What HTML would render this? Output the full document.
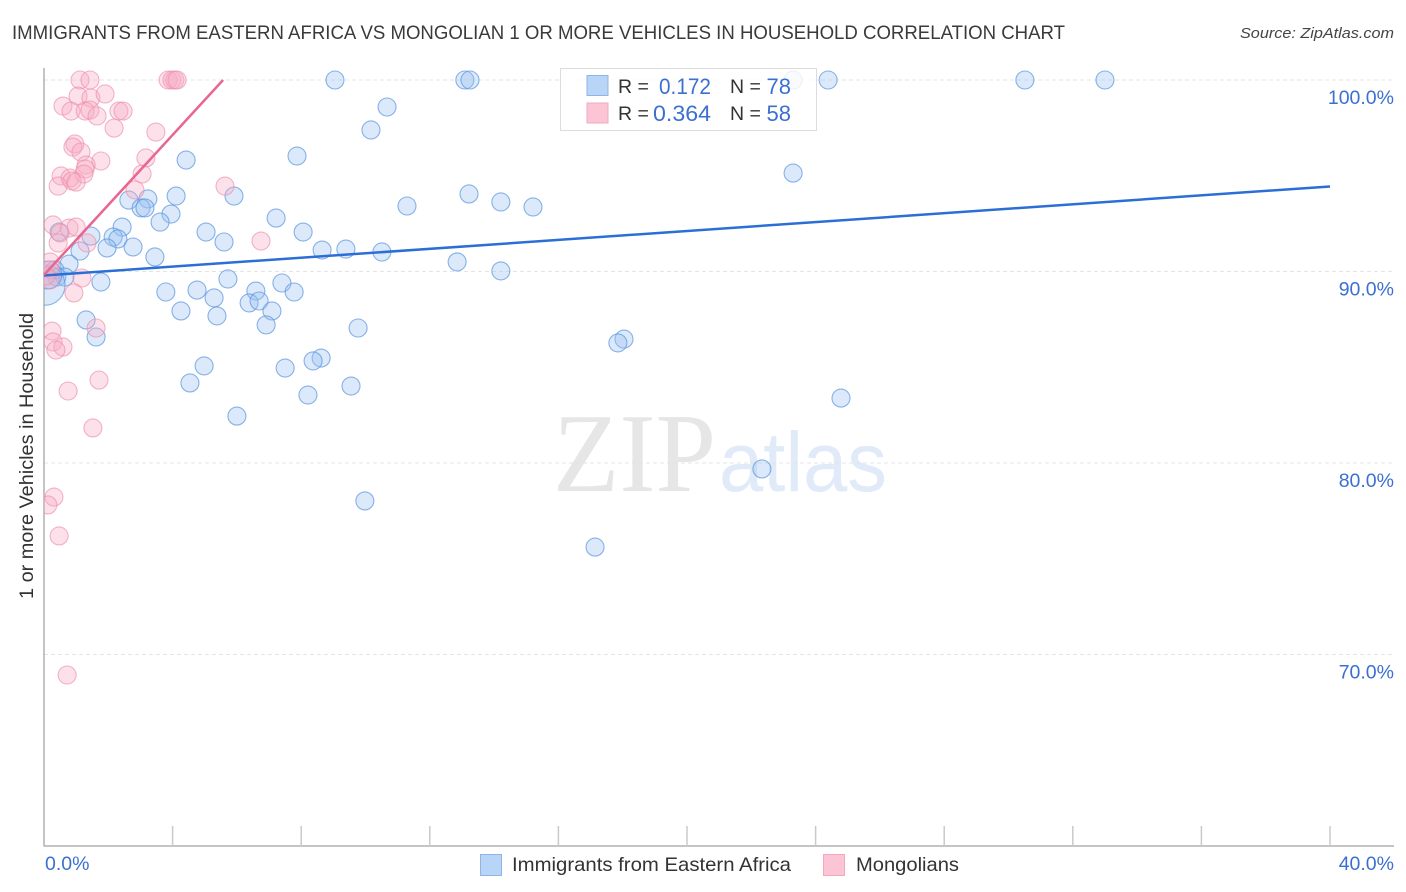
<!DOCTYPE html>
<html><head><meta charset="utf-8">
<style>
html,body{margin:0;padding:0;background:#fff;width:1406px;height:892px;overflow:hidden}
svg{display:block}
text{font-family:"Liberation Sans",sans-serif}
</style></head>
<body>
<svg id="chart" width="1406" height="892" viewBox="0 0 1406 892" xmlns="http://www.w3.org/2000/svg">
<defs><clipPath id="plot-clip"><rect x="44" y="60" width="1350" height="786"/></clipPath></defs>
<rect width="1406" height="892" fill="#fff"/>
<text x="12" y="39" font-size="19.5" fill="#3a3a3a" textLength="1053" lengthAdjust="spacingAndGlyphs">IMMIGRANTS FROM EASTERN AFRICA VS MONGOLIAN 1 OR MORE VEHICLES IN HOUSEHOLD CORRELATION CHART</text>
<text x="1394" y="38" font-size="15" font-style="italic" fill="#444" text-anchor="end" textLength="154" lengthAdjust="spacingAndGlyphs">Source: ZipAtlas.com</text>
<g id="watermark">
<text x="553" y="491" font-size="112" fill="#e6e6e6" style="font-family:'Liberation Serif',serif" textLength="163" lengthAdjust="spacingAndGlyphs">ZIP</text>
<text x="719" y="491" font-size="84" fill="#e1eaf8" textLength="168" lengthAdjust="spacingAndGlyphs">atlas</text>
</g>
<g id="grid"></g>
<g id="axes"></g>
<g id="points-blue" clip-path="url(#plot-clip)"></g>
<g id="points-pink" clip-path="url(#plot-clip)"></g>
<g id="trends"></g>
<g>
<rect x="560.5" y="68.5" width="256" height="62" fill="#fff" fill-opacity="0.82" stroke="#dcdcdc" stroke-width="1"/>
<rect x="587" y="75.5" width="21" height="20" fill="#b8d4f7" stroke="#8fb5e6"/>
<rect x="587" y="103" width="21" height="20" fill="#fcc5d6" stroke="#f2a9c0"/>
<text x="618" y="93" font-size="19.5" fill="#333">R =</text>
<text x="659" y="94" font-size="22" fill="#3b70d0" textLength="52" lengthAdjust="spacingAndGlyphs">0.172</text>
<text x="730" y="93" font-size="19.5" fill="#333">N =</text>
<text x="791" y="94" font-size="22" fill="#3b70d0" text-anchor="end">78</text>
<text x="618" y="120" font-size="19.5" fill="#333">R =</text>
<text x="653" y="121" font-size="22" fill="#3b70d0" textLength="58" lengthAdjust="spacingAndGlyphs">0.364</text>
<text x="730" y="120" font-size="19.5" fill="#333">N =</text>
<text x="791" y="121" font-size="22" fill="#3b70d0" text-anchor="end">58</text>
</g>
<text transform="translate(33,456) rotate(-90)" font-size="19" fill="#333" text-anchor="middle" textLength="286" lengthAdjust="spacingAndGlyphs">1 or more Vehicles in Household</text>
<g>
<rect x="480.5" y="854.5" width="21" height="21" fill="#b8d4f7" stroke="#8fb5e6"/>
<text x="512" y="871" font-size="19.5" fill="#333" textLength="279" lengthAdjust="spacingAndGlyphs">Immigrants from Eastern Africa</text>
<rect x="823.5" y="854.5" width="21" height="21" fill="#fcc5d6" stroke="#f2a9c0"/>
<text x="856" y="871" font-size="19.5" fill="#333" textLength="103" lengthAdjust="spacingAndGlyphs">Mongolians</text>
</g>
</svg>
<script>
const yTicks = [100, 90, 80, 70];
const yTickLabels = ['100.0%', '90.0%', '80.0%', '70.0%'];
const xTicks = [0, 4, 8, 12, 16, 20, 24, 28, 32, 36, 40];
const xEndLabels = ['0.0%', '40.0%'];

const blueX = [9.05,13.09,13.25,23.30,24.39,30.51,33.00,10.67,10.17,7.87,4.42,23.30,13.22,4.11,5.91,2.64,3.23,3.02,3.14,14.21,15.21,11.29,3.95,3.61,7.22,2.43,5.04,8.06,0.47,1.46,2.15,2.30,5.60,1.96,2.77,1.12,8.65,9.39,10.51,3.45,12.85,14.21,5.72,0.78,0.34,0.40,0.65,1.77,7.40,6.59,7.78,3.79,4.76,5.29,6.38,6.69,4.26,5.38,7.09,6.91,1.31,9.77,1.62,18.04,17.85,8.62,8.37,4.98,7.50,4.54,9.55,8.21,24.79,6.00,22.33,9.98,17.14,0.03,0.12];
const blueY = [100,100,100,100,100,100,100,98.59,97.39,96.03,95.82,95.14,94.05,93.94,93.94,93.73,93.79,93.32,93.32,93.63,93.37,93.42,93.00,92.58,92.79,92.32,92.06,92.06,92.06,91.85,91.80,91.70,91.54,91.23,91.28,91.07,91.12,91.17,91.02,90.76,90.50,90.03,89.61,90.39,90.08,89.71,89.71,89.45,89.40,88.98,88.93,88.93,89.03,88.62,88.36,88.46,87.94,87.68,87.94,87.21,87.47,87.05,86.58,86.47,86.27,85.48,85.33,85.07,84.96,84.18,84.02,83.55,83.39,82.45,79.69,78.02,75.61,89.29,89.82];
const blueWeight = [1,1,1,1,1,1,1,1,1,1,1,1,1,1,1,1,1,1,1,1,1,1,1,1,1,1,1,1,1,1,1,1,1,1,1,1,1,1,1,1,1,1,1,1,1,1,1,1,1,1,1,1,1,1,1,1,1,1,1,1,1,1,1,1,1,1,1,1,1,1,1,1,1,1,1,1,1,5,2.4];

const pinkX = [1.12,1.43,3.86,3.98,4.07,4.14,1.06,1.46,1.90,0.59,0.84,1.28,1.43,1.65,2.33,2.46,2.18,3.48,0.96,0.90,1.15,3.17,1.77,1.31,1.28,1.24,3.05,0.53,0.81,0.87,1.00,0.44,5.63,2.83,0.28,0.78,1.00,0.50,6.75,0.44,1.34,0.19,1.18,0.19,0.19,0.06,0.93,0.25,0.28,0.59,0.37,1.62,1.71,0.75,1.52,0.31,0.12,0.47,0.72];
const pinkY = [100,100,100,100,100,100,99.16,99.06,99.27,98.64,98.38,98.38,98.43,98.12,98.38,98.38,97.49,97.28,96.66,96.50,96.24,95.93,95.77,95.56,95.35,95.09,95.09,94.99,94.88,94.73,94.67,94.46,94.46,94.26,92.43,92.27,92.32,92.01,91.59,91.49,91.49,90.50,89.66,90.08,89.56,89.77,88.88,86.89,86.32,86.06,85.90,87.05,84.33,83.76,81.83,78.22,77.81,76.19,68.93];

const blueTrendX = [0, 40];
const blueTrendY = [89.79, 94.44];
const pinkTrendX = [0, 5.57];
const pinkTrendY = [89.82, 100];

const NS = 'http://www.w3.org/2000/svg';
const sx = v => 44 + v * (1286 / 40);
const sy = v => 80 + (100 - v) * 19.15;
function mk(parent, tag, attrs) {
  const el = document.createElementNS(NS, tag);
  for (const k in attrs) el.setAttribute(k, attrs[k]);
  document.getElementById(parent).appendChild(el);
  return el;
}

yTicks.forEach((t, i) => {
  const g = mk('grid', 'line', {x1: 44, x2: 1394, y1: sy(t), y2: sy(t), stroke: '#e4e4e4', 'stroke-width': 1, 'stroke-dasharray': '4 3'});
  
  
  const l = mk('axes', 'text', {x: 1394, y: sy(t) + 24, 'font-size': 19.5, fill: '#3b70d0', 'text-anchor': 'end'});
  l.textContent = yTickLabels[i];
  
  
});

const yAxis = mk('axes', 'line', {x1: 44, x2: 44, y1: 68, y2: 846.5, stroke: '#b0b0b0', 'stroke-width': 1.5});


const xAxis = mk('axes', 'line', {x1: 44, x2: 1394, y1: 846, y2: 846, stroke: '#b0b0b0', 'stroke-width': 1.5});


xTicks.slice(1).forEach(t => {
  const k = mk('axes', 'line', {x1: sx(t), x2: sx(t), y1: 826, y2: 846, stroke: '#cacaca', 'stroke-width': 1.5});
  
  
});
const x0 = mk('axes', 'text', {x: 45, y: 870, 'font-size': 19.5, fill: '#3b70d0'});
x0.textContent = xEndLabels[0];


const x1 = mk('axes', 'text', {x: 1394, y: 870, 'font-size': 19.5, fill: '#3b70d0', 'text-anchor': 'end'});
x1.textContent = xEndLabels[1];



blueX.forEach((v, i) => {
  const c = mk('points-blue', 'circle', {cx: sx(v), cy: sy(blueY[i]), r: 9 * Math.sqrt(blueWeight[i]), fill: '#9cc3f2', 'fill-opacity': 0.36, stroke: '#5a94de', 'stroke-opacity': 0.7, 'stroke-width': 1.1});
  
  
});
pinkX.forEach((v, i) => {
  const c = mk('points-pink', 'circle', {cx: sx(v), cy: sy(pinkY[i]), r: 9, fill: '#f8adc4', 'fill-opacity': 0.36, stroke: '#ee8dab', 'stroke-opacity': 0.65, 'stroke-width': 1.1});
  
  
});

const tb = mk('trends', 'line', {x1: sx(blueTrendX[0]), y1: sy(blueTrendY[0]), x2: sx(blueTrendX[1]), y2: sy(blueTrendY[1]), stroke: '#2b6fd6', 'stroke-width': 2.5});


const tp = mk('trends', 'line', {x1: sx(pinkTrendX[0]), y1: sy(pinkTrendY[0]), x2: sx(pinkTrendX[1]), y2: sy(pinkTrendY[1]), stroke: '#e8668f', 'stroke-width': 2.5});


</script>
</body></html>
